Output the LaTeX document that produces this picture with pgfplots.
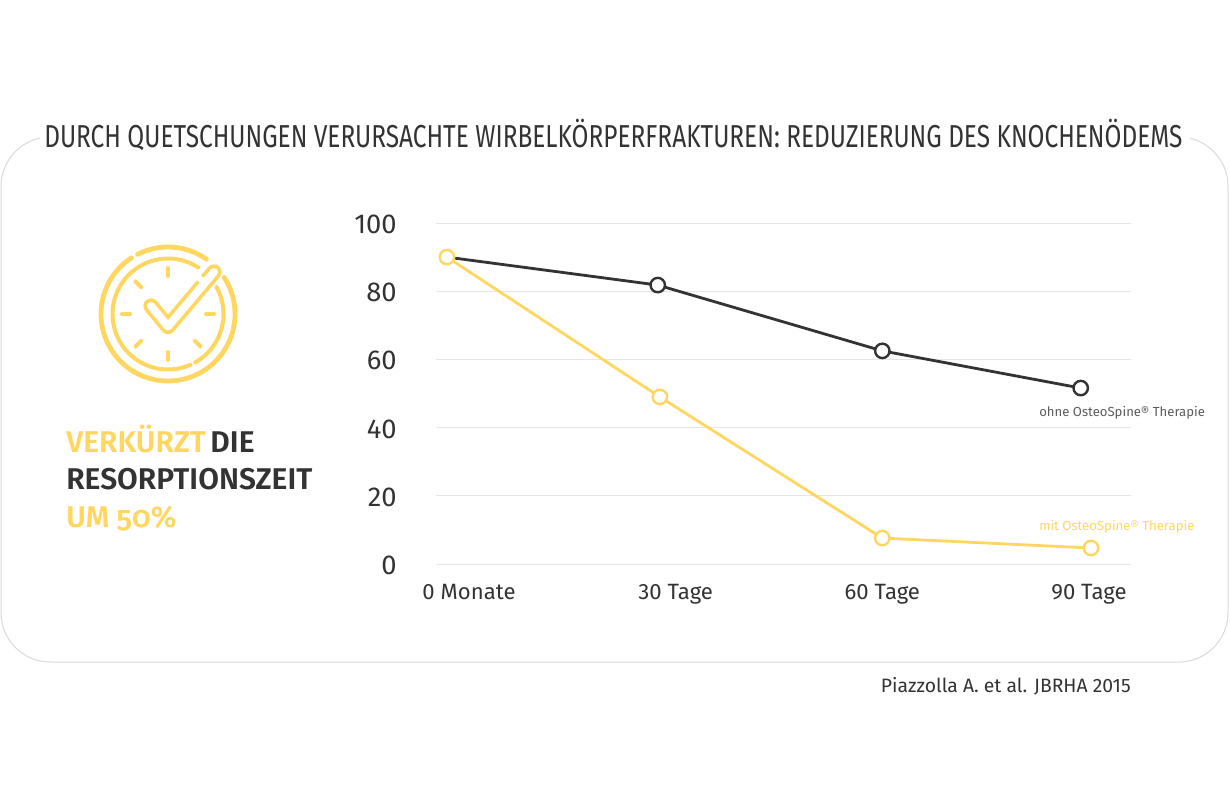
\documentclass[border=0pt]{standalone}
\usepackage{fontspec}
\usepackage{pgfplots}
\pgfplotsset{compat=1.18}
\setmainfont{Fira Sans}
\newfontfamily\lightf{Fira Sans}
\newfontfamily\titlef[FakeStretch=0.77]{Fira Sans}
\newfontfamily\semif{Fira Sans SemiBold}
\newfontfamily\semiold[Numbers=OldStyle]{Fira Sans SemiBold}
\definecolor{ylw}{HTML}{FFD660}
\definecolor{drk}{HTML}{333333}
\definecolor{grd}{HTML}{E6E6E6}
\definecolor{bord}{HTML}{D9D9D9}
\begin{document}
\begin{tikzpicture}
\begin{scope}[x=0.75pt,y=-0.75pt]
\path[use as bounding box] (0,0) rectangle (1230,800);
\draw[bord,line width=0.75pt,rounded corners=37pt] (1,137) rectangle (1228,662);
\fill[white] (40,120) rectangle (1190,150);
\node[anchor=base west,inner sep=0,text=drk,font={\titlef\fontsize{23.8pt}{26pt}\selectfont}] at (44,147) {DURCH QUETSCHUNGEN VERURSACHTE WIRBELKÖRPERFRAKTUREN: REDUZIERUNG DES KNOCHENÖDEMS};
% icon
\begin{scope}[shift={(168,314)},line cap=round,draw=ylw]
\begin{scope}[y=0.75pt]
\draw[line width=3.6pt] (33:67) arc (33:-237:67);
\draw[line width=3.6pt] (117:67) arc (117:55:67);
\draw[line width=3pt] (57:55.5) arc (57:294:55.5);
\draw[line width=3pt] (-60.7:55.5) arc (-60.7:29:55.5);
\foreach \a in {0,90,180,270,135,225,315}{\draw[line width=3pt] (\a:38) -- (\a:46);}
\end{scope}
\draw[line width=11.5pt,line join=round] (-17,-8) -- (0,12.5) -- (46,-42);
\draw[white,line width=6pt,line join=round] (-17,-8) -- (0,12.5) -- (46,-42);
\draw[white,line width=3.75pt,line cap=butt] (30.7,-32.3) -- (34.7,-37);
\end{scope}
\node[anchor=base west,inner sep=0,font={\semif\fontsize{22.5pt}{24pt}\selectfont}] at (66,452) {\textcolor{ylw}{VERKÜRZT}\hspace{3.5pt}\textcolor{drk}{DIE}};
\node[anchor=base west,inner sep=0,text=drk,font={\semif\fontsize{22.5pt}{24pt}\selectfont}] at (66,489) {RESORPTIONSZEIT};
\node[anchor=base west,inner sep=0,text=ylw,font={\semiold\fontsize{22.5pt}{24pt}\selectfont}] at (66,527) {UM 50\%};
\node[anchor=base west,inner sep=0,text=drk!80,font={\lightf\fontsize{9.85pt}{11pt}\selectfont}] at (1039,416) {ohne OsteoSpine® Therapie};
\node[anchor=base west,inner sep=0,text=ylw,font={\lightf\fontsize{9.85pt}{11pt}\selectfont}] at (1039,530) {mit OsteoSpine® Therapie};
\node[anchor=base east,inner sep=0,text=drk,font={\lightf\fontsize{14.5pt}{16pt}\selectfont}] at (1131,692) {Piazzolla A. et al. JBRHA 2015};
\end{scope}
\begin{axis}[
 at={(327pt,-423pt)},anchor=south west,
 scale only axis,width=521.25pt,height=255.75pt,
 xmin=-4.79,xmax=96.1,ymin=0,ymax=100,
 axis line style={draw=none},
 major tick length=0pt,
 xtick={0,30,60,90},
 xticklabels={0 Monate,30 Tage,60 Tage,90 Tage},
 ytick={0,20,40,60,80,100},
 ymajorgrids,
 grid style={grd,line width=0.75pt},
 /pgf/number format/assume math mode=true,
 xticklabel style={font={\lightf\fontsize{16.6pt}{20pt}\selectfont},text=drk,yshift=-11.5pt},
 yticklabel style={font={\lightf\fontsize{20.5pt}{22pt}\selectfont},text=drk,xshift=-26pt,yshift=-1pt},
 clip=false,
]
\addplot[drk,line width=2.1pt,mark=*,mark indices={2,3,4},mark size=5.4pt,mark options={fill=white,draw=drk,line width=1.8pt}] coordinates {(-3.2,90) (27.4,81.8) (60,62.5) (88.8,51.6)};
\addplot[ylw,line width=2.1pt,mark=*,mark size=5.4pt,mark options={fill=white,draw=ylw,line width=1.8pt}] coordinates {(-3.2,90) (27.7,49) (60,7.6) (90.3,4.7)};
\end{axis}
\end{tikzpicture}
\end{document}
